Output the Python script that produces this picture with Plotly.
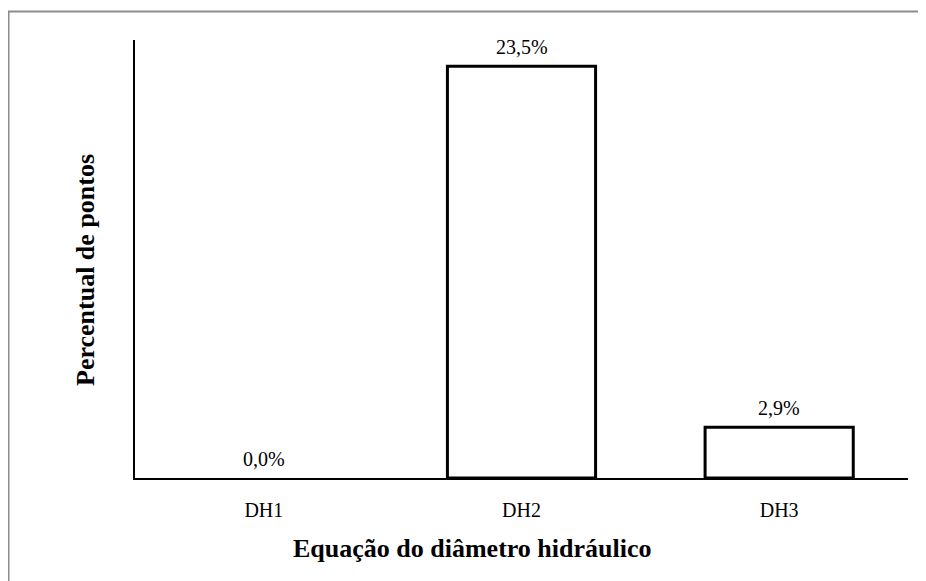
import plotly.graph_objects as go

# data
categories = ["DH1", "DH2", "DH3"]
percent_points = [0.0, 23.5, 2.9]
x_title = "Equação do diâmetro hidráulico"
y_title = "Percentual de pontos"

# page body has an 8px margin, so the figure is drawn 8px smaller
W, H = 918, 573
L, R, T, B = 127, 18, 32, 103
pw, ph = W - L - R, H - T - B

font = "Liberation Serif, Times New Roman, serif"

fig = go.Figure()
fig.add_trace(go.Bar(
    x=categories,
    y=percent_points,
    width=0.575,
    marker=dict(color="white",
                line=dict(color="black", width=[3 if v > 0 else 0 for v in percent_points])),
    hoverinfo="skip",
))

# value labels above bars
for c, v in zip(categories, percent_points):
    fig.add_annotation(
        x=c, y=v, text=f"{v:.1f}%".replace(".", ","),
        showarrow=False, yanchor="bottom", yshift=6,
        font=dict(family=font, size=20, color="black"),
    )

# axis titles
fig.add_annotation(
    xref="paper", yref="paper", x=(464 - L) / pw, y=-(540 - T - ph) / ph,
    xanchor="center", yanchor="middle",
    text=f"<b>{x_title}</b>", showarrow=False,
    font=dict(family=font, size=26, color="black"),
)
fig.add_annotation(
    xref="paper", yref="paper", x=(77 - L) / pw, y=1 - (262 - T) / ph,
    xanchor="center", yanchor="middle",
    text=f"<b>{y_title}</b>", showarrow=False, textangle=-90,
    font=dict(family=font, size=26, color="black"),
)

# grey outer frame
x0 = (0.5 - L) / pw
y0 = 1 + (T - 3.5) / ph
fig.add_shape(
    type="path", xref="paper", yref="paper",
    path=f"M {x0} -0.5 L {x0} {y0} L 1.2 {y0}",
    line=dict(color="#8c8c8c", width=2),
)

fig.update_layout(
    width=W, height=H,
    margin=dict(l=L, r=R, t=T, b=B),
    plot_bgcolor="white", paper_bgcolor="white",
    showlegend=False,
    font=dict(family=font, size=20, color="black"),
)
fig.update_xaxes(
    showline=True, linecolor="black", linewidth=1.5,
    showgrid=False, ticks="", ticklabelstandoff=13,
    tickfont=dict(family=font, size=20),
)
fig.update_yaxes(
    range=[0, 25], showline=True, linecolor="black", linewidth=2,
    showgrid=False, zeroline=False, showticklabels=False, ticks="",
)

fig.write_html("out.html")
